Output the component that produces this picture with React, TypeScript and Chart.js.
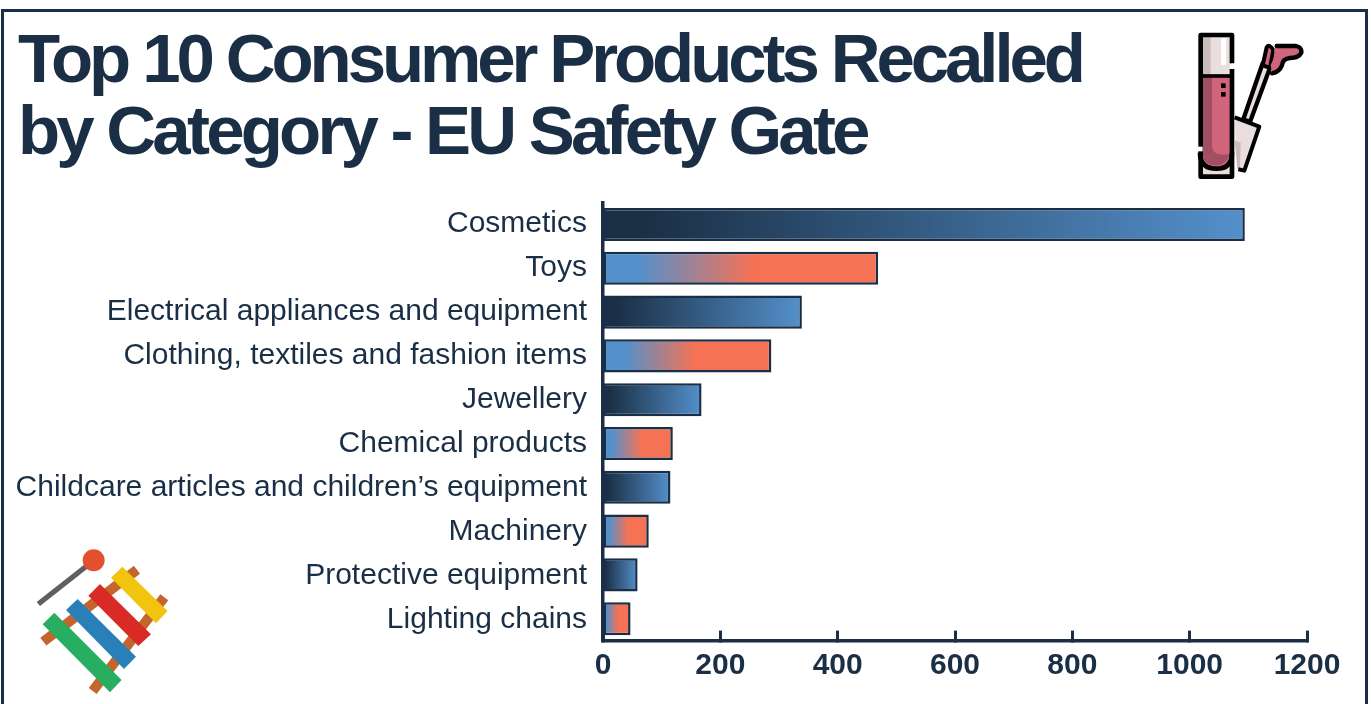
import React, { useEffect, useRef } from "react";
import { Chart, registerables } from "chart.js";

Chart.register(...registerables);

const categories = [
  "Cosmetics",
  "Toys",
  "Electrical appliances and equipment",
  "Clothing, textiles and fashion items",
  "Jewellery",
  "Chemical products",
  "Childcare articles and children\u2019s equipment",
  "Machinery",
  "Protective equipment",
  "Lighting chains",
];
const recalls = [1094, 469, 339, 287, 168, 119, 115, 78, 59, 47];
const xTicks = [0, 200, 400, 600, 800, 1000, 1200];
const titleLines = ["Top 10 Consumer Products Recalled", "by Category - EU Safety Gate"];
const titleSpacing = ["-4.09px", "-3.79px"];

const INK = "#1a2f45";
const BLUE = "#5490cb";
const ORANGE = "#f67254";

function barFill(context: any) {
  const chart = context.chart;
  const scale = chart.scales?.x;
  if (!scale || !chart.chartArea) return BLUE;
  const i = context.dataIndex;
  const x0 = scale.getPixelForValue(0);
  const x1 = scale.getPixelForValue(recalls[i]);
  const g = chart.ctx.createLinearGradient(x0, 0, x1, 0);
  if (i % 2 === 0) {
    g.addColorStop(0, INK);
    g.addColorStop(0.06, INK);
    g.addColorStop(1, BLUE);
  } else {
    g.addColorStop(0, BLUE);
    g.addColorStop(0.13, BLUE);
    g.addColorStop(0.55, ORANGE);
    g.addColorStop(1, ORANGE);
  }
  return g;
}

// The reference's category labels sit on a slightly wider rhythm than its bars.
const labelNudge = {
  id: "labelNudge",
  afterLayout(chart: any) {
    const items = chart.scales.y?.getLabelItems?.(chart.chartArea) ?? [];
    const last = Math.max(items.length - 1, 1);
    items.forEach((item: any, i: number) => {
      if (item.options?.translation) item.options.translation[1] += 1.5 - 2.5 * (1 - i / last);
    });
  },
};

function LipGloss() {
  return (
    <g transform="translate(1150,0) scale(0.3333)">
      <rect x="152" y="105" width="94" height="425" fill="#e9dddd" />
      <rect x="158" y="108" width="24" height="118" fill="#c9bdba" />
      <path d="M152 228H246V455Q246 505 200 505Q152 505 152 455Z" fill="#d0647a" />
      <path d="M158 232H186V435Q186 472 240 462Q228 496 200 496Q158 496 158 455Z" fill="#a14f65" />
      <rect x="213" y="115" width="16" height="80" fill="#fff" />
      <rect x="240" y="193" width="16" height="14" fill="#fff" />
      <rect x="213" y="250" width="14" height="14" fill="#000" />
      <rect x="213" y="276" width="14" height="14" fill="#000" />
      <path d="M246 207V530H152V105H246V190" fill="none" stroke="#000" strokeWidth="14" strokeLinejoin="round" />
      <path d="M152 228H246" stroke="#000" strokeWidth="11" />
      <path d="M150 458Q150 506 200 506Q246 506 246 458" fill="none" stroke="#000" strokeWidth="14" />
      <rect x="143" y="440" width="15" height="14" fill="#fff" />
      <path d="M254 352L328 380L283 510L262 506" fill="#e9dddd" stroke="none" />
      <path d="M254 420L272 428L270 505L262 506Z" fill="#c9bdba" />
      <path d="M254 352L328 380L283 512L265 508" fill="none" stroke="#000" strokeWidth="12" strokeLinejoin="round" />
      <path d="M280 358L338 190L362 198L300 366Z" fill="#e9dddd" stroke="#000" strokeWidth="13" strokeLinejoin="round" />
      <path d="M338 196L350 142Q358 130 370 150L360 204Z" fill="#d0647a" stroke="#000" strokeWidth="12" strokeLinejoin="round" />
      <path d="M380 138H440Q456 145 452 160Q444 174 420 174Q398 176 396 196Q388 216 366 218L362 195Q378 165 372 150Z" fill="#d0647a" />
      <path d="M380 138H438Q456 142 454 158Q446 174 420 174Q398 176 396 196Q388 216 366 220" fill="none" stroke="#000" strokeWidth="13" strokeLinecap="round" />
    </g>
  );
}

function Xylophone() {
  return (
    <g transform="translate(0,530) scale(0.3333)">
      <path d="M130 335L411 119" stroke="#c4662c" strokeWidth="30" />
      <path d="M278 483L493 202" stroke="#c4662c" strokeWidth="30" />
      <polygon points="128,283 163,248 365,450 330,487" fill="#27ae60" />
      <polygon points="198,240 233,207 408,380 372,417" fill="#2980b9" />
      <polygon points="265,197 300,162 453,313 415,348" fill="#d92b26" />
      <polygon points="333,143 367,110 503,243 468,280" fill="#f1c40f" />
      <path d="M115 222L260 108" stroke="#5f5f5f" strokeWidth="16" />
      <circle cx="281" cy="91" r="33" fill="#e2502f" />
    </g>
  );
}

export default function App() {
  const canvasRef = useRef<HTMLCanvasElement | null>(null);

  useEffect(() => {
    document.body.style.margin = "0";
    document.body.style.overflow = "hidden";
    const chart = new Chart(canvasRef.current!, {
      type: "bar",
      plugins: [labelNudge],
      data: {
        labels: categories,
        datasets: [
          {
            data: recalls,
            backgroundColor: barFill,
            borderColor: INK,
            borderWidth: 2.5,
            borderSkipped: false,
            categoryPercentage: 1,
            barPercentage: 0.755,
          },
        ],
      },
      options: {
        indexAxis: "y",
        responsive: false,
        animation: false,
        layout: { padding: { left: 0, right: 64, top: 202.6, bottom: 0 } },
        plugins: { legend: { display: false }, title: { display: false }, tooltip: { enabled: false } },
        scales: {
          x: {
            type: "linear",
            min: 0,
            max: 1200,
            afterBuildTicks: (s: any) => {
              s.ticks = xTicks.map((value) => ({ value }));
            },
            afterFit: (s: any) => {
              s.height = 63.4;
            },
            border: { display: true, color: INK, width: 3.5 },
            grid: { display: true, drawOnChartArea: false, drawTicks: true, tickLength: -10, tickColor: INK, tickWidth: 3 },
            ticks: {
              color: INK,
              padding: 17,
              maxRotation: 0,
              callback: (value: any) => String(value),
              font: { family: "'Liberation Sans'", size: 30, weight: "bold" },
            },
          },
          y: {
            afterFit: (s: any) => {
              s.width = 603;
            },
            border: { display: true, color: INK, width: 3.5 },
            grid: { display: false, drawTicks: false },
            ticks: {
              color: INK,
              padding: 16,
              autoSkip: false,
              font: { family: "'Liberation Sans'", size: 30 },
            },
          },
        },
      },
    } as any);
    return () => chart.destroy();
  }, []);

  return (
    <div style={{ position: "relative", width: 1371, height: 704, overflow: "hidden", background: "#fff" }}>
      <canvas ref={canvasRef} width={1371} height={704} style={{ position: "absolute", left: 0, top: 0, display: "block" }} />
      <div
        style={{
          position: "absolute",
          left: 1,
          top: 9,
          width: 1361,
          height: 720,
          border: `3px solid ${INK}`,
          boxSizing: "content-box",
          pointerEvents: "none",
        }}
      />
      <div
        style={{
          position: "absolute",
          left: 18,
          top: 23,
          color: INK,
          fontFamily: "'Liberation Sans'",
          fontWeight: "bold",
          fontSize: 69,
          lineHeight: "72.3px",
          whiteSpace: "nowrap",
        }}
      >
        {titleLines.map((t, i) => (
          <div key={t} style={{ letterSpacing: titleSpacing[i] }}>
            {t}
          </div>
        ))}
      </div>
      <svg width={1371} height={704} style={{ position: "absolute", left: 0, top: 0, pointerEvents: "none" }}>
        <LipGloss />
        <Xylophone />
      </svg>
    </div>
  );
}
